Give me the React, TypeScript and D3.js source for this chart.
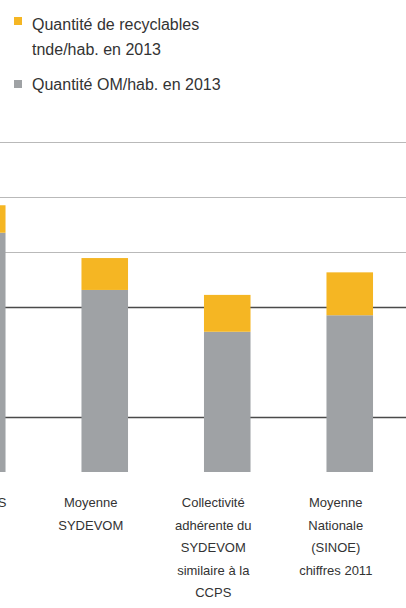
import React, { useEffect, useRef } from 'react';
import * as d3 from 'd3';

// kg/hab. en 2013
const categories = ['CCPS', 'Moyenne SYDEVOM', 'Collectivité SYDEVOM', 'Moyenne Nationale'];
const omValues = [435, 331, 255, 285];
const recyclValues = [50, 58, 67, 78];
const categoryLines = [
  ['CCPS'],
  ['Moyenne', 'SYDEVOM'],
  ['Collectivité', 'adhérente du', 'SYDEVOM', 'similaire à la', 'CCPS'],
  ['Moyenne', 'Nationale', '(SINOE)', 'chiffres 2011'],
];
const gridTicks = [100, 300, 400, 500, 600];
const legendRecycl = ['Quantité de recyclables', 'tnde/hab. en 2013'];
const legendOm = 'Quantité OM/hab. en 2013';

const W = 406;
const H = 608;

const App: React.FC = () => {
  const svgRef = useRef<SVGSVGElement>(null);

  useEffect(() => {
    if (!svgRef.current) return;
    const svg = d3.select(svgRef.current);
    svg.selectAll('*').remove();

    const font = '"Liberation Sans", Arial, sans-serif';
    const grey = '#9fa2a5';
    const yellow = '#f5b623';

    const y = d3.scaleLinear().domain([0, 600]).range([472, 142]);
    const x = d3.scaleBand<string>()
      .domain(categories)
      .range([-79, 411])
      .paddingInner(0.62)
      .paddingOuter(0.31);

    svg.append('rect').attr('width', W).attr('height', H).attr('fill', '#fff');

    // gridlines
    svg.append('g')
      .selectAll('line')
      .data(gridTicks)
      .join('line')
      .attr('x1', 0)
      .attr('x2', W)
      .attr('y1', d => Math.round(y(d)) + 0.5)
      .attr('y2', d => Math.round(y(d)) + 0.5)
      .attr('stroke', d => (d <= 300 ? '#4a4a4a' : '#b9b9b9'))
      .attr('stroke-width', d => (d <= 300 ? 1.5 : 1.2));

    // stacked bars
    const bars = svg.append('g');
    categories.forEach((c, i) => {
      const x0 = x(c)!;
      bars.append('rect')
        .attr('x', x0)
        .attr('width', x.bandwidth())
        .attr('y', y(omValues[i]))
        .attr('height', y(0) - y(omValues[i]))
        .attr('fill', grey);
      bars.append('rect')
        .attr('x', x0)
        .attr('width', x.bandwidth())
        .attr('y', y(omValues[i] + recyclValues[i]))
        .attr('height', y(omValues[i]) - y(omValues[i] + recyclValues[i]))
        .attr('fill', yellow);
    });

    // category labels (the first one is cut by the left edge, as in the source)
    const labels = svg.append('g')
      .attr('font-family', font)
      .attr('font-size', 13)
      .attr('fill', '#333');
    categories.forEach((c, i) => {
      const first = i === 0;
      const cx = first ? x(c)! + x.bandwidth() + 1 : x(c)! + x.bandwidth() / 2 - 14;
      const t = labels.append('text').attr('text-anchor', first ? 'end' : 'middle');
      categoryLines[i].forEach((line, j) => {
        t.append('tspan')
          .attr('x', cx)
          .attr('y', 507 + j * 22.5)
          .text(line);
      });
    });

    // legend
    const lg = svg.append('g')
      .attr('font-family', font)
      .attr('font-size', 16)
      .attr('fill', '#333');
    lg.append('rect').attr('x', 14).attr('y', 17).attr('width', 8).attr('height', 8).attr('fill', yellow);
    legendRecycl.forEach((line, j) => {
      lg.append('text').attr('x', 32).attr('y', 30 + j * 25).text(line);
    });
    lg.append('rect').attr('x', 14).attr('y', 80).attr('width', 8).attr('height', 8).attr('fill', grey);
    lg.append('text').attr('x', 32).attr('y', 90).text(legendOm);
  }, []);

  return (
    <div style={{ position: 'fixed', left: 0, top: 0 }}>
      <svg ref={svgRef} width={W} height={H} style={{ display: 'block' }} />
    </div>
  );
};

export default App;
